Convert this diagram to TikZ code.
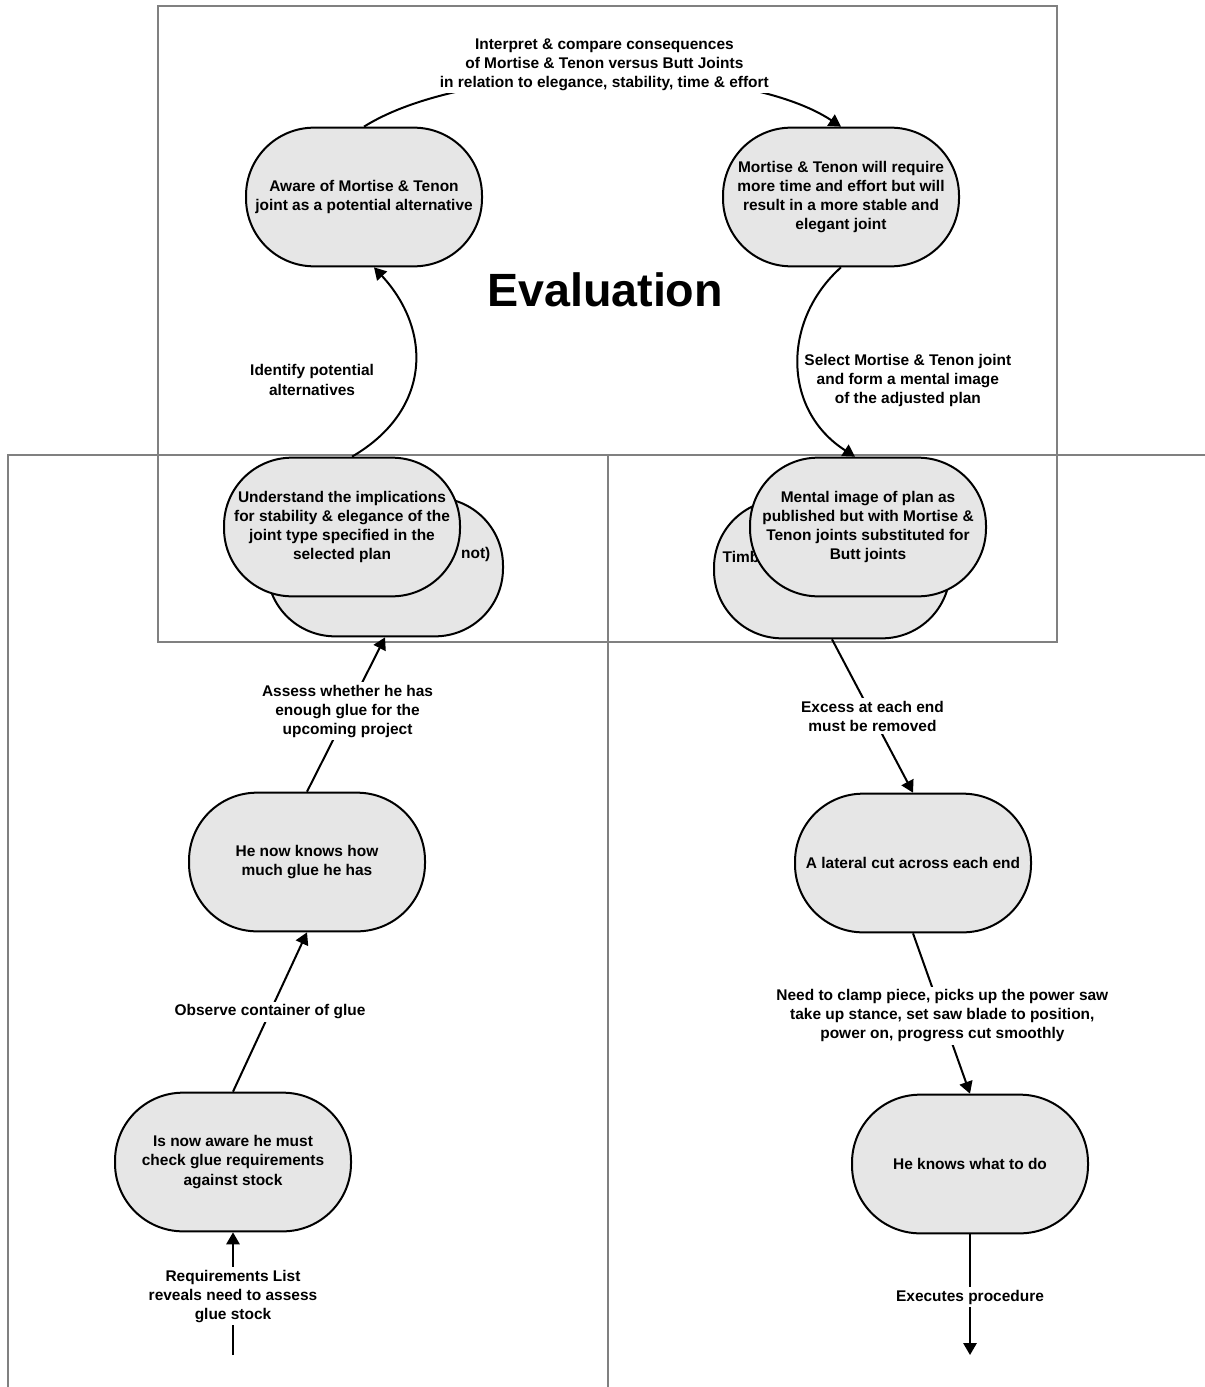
\documentclass[tikz,border=0pt]{standalone}
\usepackage{fontspec}
\setmainfont{Liberation Sans}
\usetikzlibrary{arrows.meta,calc}
\definecolor{stagefill}{RGB}{230,230,230}
\definecolor{framegray}{RGB}{128,128,128}
\newcommand\flowfont{\fontsize{11.6}{14.3}\selectfont\bfseries}
\begin{document}
\begin{tikzpicture}[x=0.75pt,y=-0.75pt,
  frame/.style={draw=framegray, line width=1.6pt},
  stage/.style={draw=black, line width=1.5pt, fill=stagefill, rounded corners=51pt,
    minimum width=177pt, minimum height=104pt, align=center, font=\flowfont, inner sep=2pt},
  lbl/.style={fill=white, align=center, font=\flowfont, inner sep=2pt},
  sidelbl/.style={align=center, font=\flowfont, inner sep=1pt},
  arr/.style={draw=black, line width=1.5pt, -{Triangle[length=9pt,width=10pt]}}]
\useasboundingbox (0,0) rectangle (1205,1387);

% panel frames
\draw[frame] (158,6) rectangle (1057,642);
\draw[frame] (8,1387) -- (8,455) -- (1205,455);
\draw[frame] (608,455) -- (608,1387);

% heading of the upper panel
\node[font=\fontsize{35}{40}\selectfont\bfseries] (evaltitle) at (605,290) {Evaluation};

% stages
\node[stage] (n1) at (364,197) {Aware of Mortise \& Tenon\\joint as a potential alternative};
\node[stage] (n2) at (841,197) {Mortise \& Tenon will require\\more time and effort but will\\result in a more stable and\\elegant joint};

\node[stage] (backL) at (385,567) {};
\node[font=\flowfont, anchor=east] (backLtext) at (495,554) {not)};
\node[stage] (frontL) at (342,527) {Understand the implications\\for stability \& elegance of the\\joint type specified in the\\selected plan};

\node[stage] (backR) at (832,569) {};
\node[font=\flowfont, anchor=west] (backRtext) at (718,557) {Timb};
\node[stage] (frontR) at (868,527) {Mental image of plan as\\published but with Mortise \&\\Tenon joints substituted for\\Butt joints};

\node[stage] (knows) at (307,862) {He now knows how\\much glue he has};
\node[stage] (awareG) at (233,1162) {Is now aware he must\\check glue requirements\\against stock};
\node[stage] (lateral) at (913,863) {A lateral cut across each end};
\node[stage] (knowsdo) at (970,1164) {He knows what to do};

\coordinate (startG) at (233,1355);
\coordinate (endR) at (970,1355);

% connectors
\draw[arr] (n1.north) .. controls (470,60) and (740,60) .. (n2.north)
  node[lbl, midway, yshift=9pt] {Interpret \& compare consequences\\of Mortise \& Tenon versus Butt Joints\\in relation to elegance, stability, time \& effort};

\draw[arr] ($(frontL.north)+(10,0)$) .. controls (432,410) and (432,330) .. ($(n1.south)+(10,0)$)
  node[sidelbl, midway, xshift=-77pt, yshift=-9pt] {Identify potential\\alternatives};

\draw[arr] (n2.south) .. controls (782,320) and (782,410) .. ($(frontR.north)+(-13,0)$)
  node[sidelbl, midway, xshift=82pt, yshift=-12pt] {Select Mortise \& Tenon joint\\and form a mental image\\of the adjusted plan};

\draw[arr] (startG) -- node[lbl, pos=0.48] {Requirements List\\reveals need to assess\\glue stock} (awareG.south);
\draw[arr] (awareG.north) -- node[lbl, midway] {Observe container of glue} (knows.south);
\draw[arr] (knows.north) -- node[lbl, pos=0.52] {Assess whether he has\\enough glue for the\\upcoming project} (backL.south);

\draw[arr] (backR.south) -- node[lbl, midway] {Excess at each end\\must be removed} (lateral.north);
\draw[arr] (lateral.south) -- node[lbl, pos=0.515] {Need to clamp piece, picks up the power saw\\take up stance, set saw blade to position,\\power on, progress cut smoothly} (knowsdo.north);
\draw[arr] (knowsdo.south) -- node[lbl, pos=0.52] {Executes procedure} (endR);
\end{tikzpicture}
\end{document}
